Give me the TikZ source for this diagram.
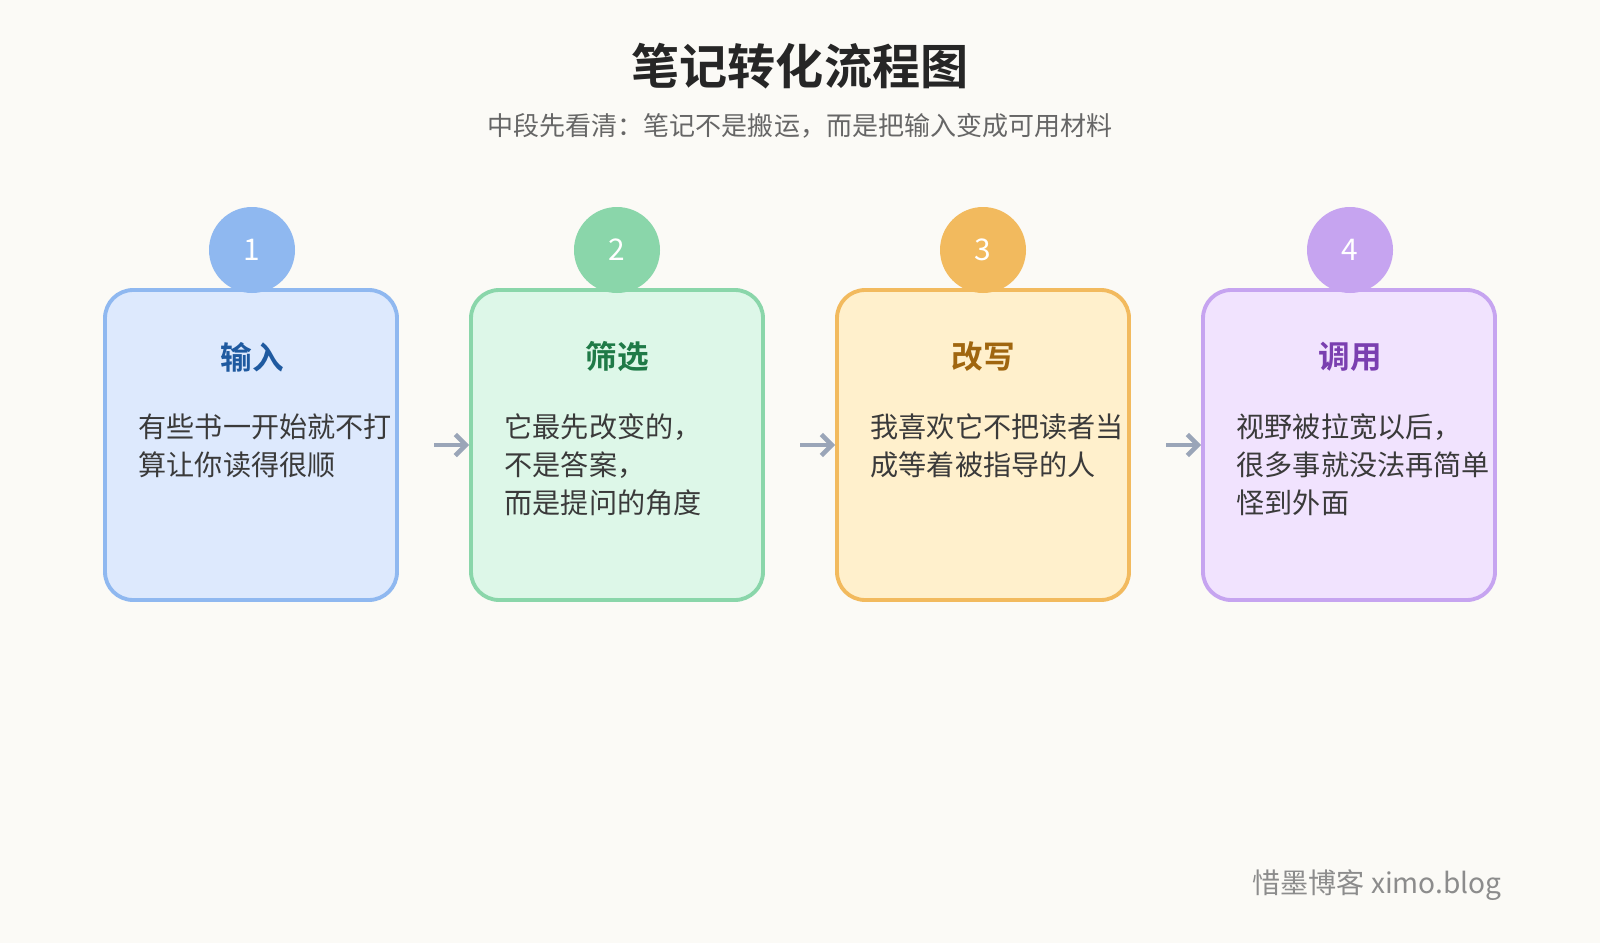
\documentclass[tikz,border=0pt]{standalone}
\usepackage{fontspec}
\setmainfont{Noto Sans CJK SC}
\newfontfamily\cjkbold{Noto Sans CJK SC Bold}
\usetikzlibrary{arrows.meta, positioning}
\definecolor{bgc}{HTML}{FBFAF6}
\definecolor{blueC}{HTML}{8FB8F0}\definecolor{blueF}{HTML}{DDE9FD}\definecolor{blueT}{HTML}{1F5AA0}
\definecolor{greenC}{HTML}{8AD6AA}\definecolor{greenF}{HTML}{DDF7E8}\definecolor{greenT}{HTML}{1F7A47}
\definecolor{orangeC}{HTML}{F2BA5E}\definecolor{orangeF}{HTML}{FFF0CC}\definecolor{orangeT}{HTML}{A0660F}
\definecolor{purpleC}{HTML}{C6A4F0}\definecolor{purpleF}{HTML}{F1E3FE}\definecolor{purpleT}{HTML}{7A3FB0}
\definecolor{arrowC}{HTML}{9AA5B8}
\definecolor{textC}{HTML}{3A3A3A}
\tikzset{
  card/.style = {
    draw, line width=1.1pt, rounded corners=8pt, minimum width=2.92cm, minimum height=3.1cm
  },
  badge/.style = {
    circle, minimum size=0.86cm, inner sep=0pt, text=white, font=\fontsize{8.5}{10}\selectfont
  },
  cardtitle/.style = {font=\cjkbold\fontsize{9}{11}\selectfont},
  cardbody/.style = {
    anchor=north west, align=left, inner sep=0pt, text=textC,
    font=\fontsize{8}{10.8}\selectfont
  },
  arrow/.style = {-{Straight Barb[length=3pt,width=6pt]}, line width=1.3pt, draw=arrowC},
}
\begin{document}
\begin{tikzpicture}
  \useasboundingbox[fill=bgc] (0,0) rectangle (16,9.43);
  % heading
  \node[font=\cjkbold\fontsize{13.7}{16}\selectfont, text=black!85] (title) at (8,8.77) {笔记转化流程图};
  \node[font=\fontsize{7.4}{9}\selectfont, text=black!60] (sub) at (8,8.17) {中段先看清：笔记不是搬运，而是把输入变成可用材料};

  % cards
  \node[card, draw=blueC, fill=blueF] (c1) at (2.51,4.98) {};
  \node[card, draw=greenC, fill=greenF] (c2) at (6.17,4.98) {};
  \node[card, draw=orangeC, fill=orangeF] (c3) at (9.83,4.98) {};
  \node[card, draw=purpleC, fill=purpleF] (c4) at (13.49,4.98) {};

  % badges
  \node[badge, fill=blueC] (b1) at (2.52,6.93) {1};
  \node[badge, fill=greenC] (b2) at (6.17,6.93) {2};
  \node[badge, fill=orangeC] (b3) at (9.83,6.93) {3};
  \node[badge, fill=purpleC] (b4) at (13.50,6.93) {4};

  % titles
  \node[cardtitle, text=blueT] (t1) at (2.52,5.86) {输入};
  \node[cardtitle, text=greenT] (t2) at (6.17,5.86) {筛选};
  \node[cardtitle, text=orangeT] (t3) at (9.83,5.86) {改写};
  \node[cardtitle, text=purpleT] (t4) at (13.50,5.86) {调用};

  % body texts
  \node[cardbody] (x1) at (1.38,5.30) {有些书一开始就不打\\算让你读得很顺};
  \node[cardbody] (x2) at (5.04,5.30) {它最先改变的，\\不是答案，\\而是提问的角度};
  \node[cardbody] (x3) at (8.70,5.30) {我喜欢它不把读者当\\成等着被指导的人};
  \node[cardbody] (x4) at (12.36,5.30) {视野被拉宽以后，\\很多事就没法再简单\\怪到外面};

  % arrows between cards
  \draw[arrow] ([xshift=10pt]c1.east) -- (c2.west);
  \draw[arrow] ([xshift=10pt]c2.east) -- (c3.west);
  \draw[arrow] ([xshift=10pt]c3.east) -- (c4.west);

  % footer
  \node[anchor=east, font=\fontsize{8}{10}\selectfont, text=black!45] (foot) at (15.14,0.58) {惜墨博客 ximo.blog};
\end{tikzpicture}
\end{document}
